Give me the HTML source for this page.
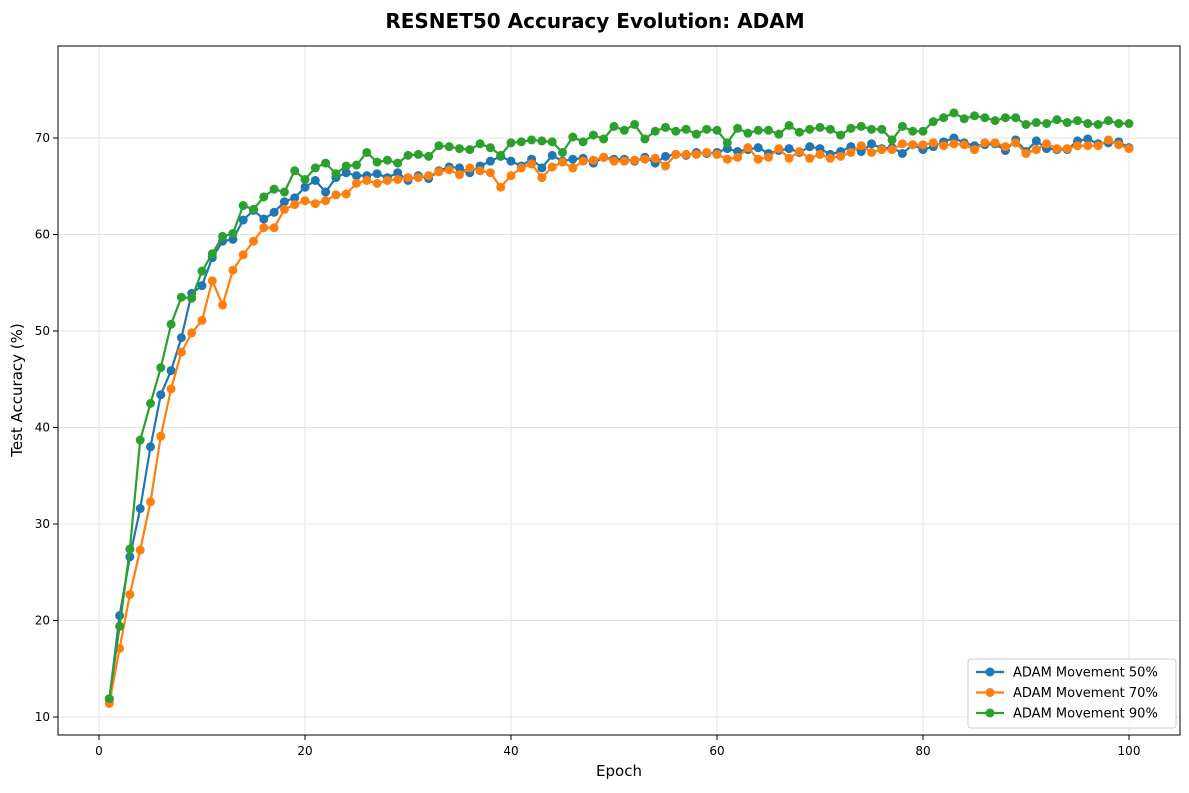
<!DOCTYPE html>
<html><head><meta charset="utf-8"><style>
body{margin:0;background:#fff;font-family:"Liberation Sans","DejaVu Sans",sans-serif}
</style></head><body>
<svg id="chart" width="1189" height="788" xmlns="http://www.w3.org/2000/svg" font-family="DejaVu Sans, Liberation Sans, sans-serif"></svg>
<script>
const epochs = Array.from({length:100},(_,i)=>i+1);
const adam50 = [11.8,20.5,26.6,31.6,38,43.4,45.9,49.3,53.9,54.7,57.6,59.3,59.5,61.5,62.5,61.6,62.3,63.4,63.8,64.9,65.6,64.4,65.9,66.4,66.1,66.1,66.3,65.9,66.4,65.6,66.1,65.8,66.6,67.0,66.9,66.4,67.1,67.6,68.1,67.6,67.1,67.8,66.9,68.2,67.6,67.8,67.9,67.4,68.0,67.8,67.8,67.6,68.0,67.4,68.1,68.3,68.2,68.5,68.4,68.5,68.9,68.6,68.8,69.0,68.4,68.7,68.9,68.5,69.1,68.9,68.3,68.6,69.1,68.6,69.4,68.9,69.0,68.4,69.3,68.8,69.1,69.6,70.0,69.5,69.2,69.3,69.4,68.7,69.8,68.6,69.7,68.9,68.8,68.8,69.7,69.9,69.4,69.5,69.6,69.0];
const adam70 = [11.4,17.1,22.7,27.3,32.3,39.1,44.0,47.8,49.8,51.1,55.2,52.7,56.3,57.9,59.3,60.7,60.7,62.6,63.1,63.5,63.2,63.5,64.1,64.2,65.3,65.6,65.3,65.6,65.7,65.9,65.9,66.1,66.5,66.7,66.2,66.9,66.6,66.4,64.9,66.1,66.9,67.3,65.9,67.0,67.5,66.9,67.6,67.7,68.0,67.6,67.6,67.7,67.8,67.9,67.1,68.3,68.3,68.3,68.5,68.3,67.8,68.0,69.0,67.8,68.0,68.9,67.9,68.6,67.9,68.3,67.9,68.1,68.5,69.2,68.5,68.8,68.8,69.4,69.3,69.3,69.5,69.2,69.4,69.3,68.8,69.5,69.5,69.1,69.5,68.4,68.8,69.4,68.9,68.9,69.2,69.2,69.2,69.8,69.3,68.9];
const adam90 = [11.9,19.4,27.4,38.7,42.5,46.2,50.7,53.5,53.4,56.2,58.0,59.8,60.1,63.0,62.6,63.9,64.7,64.4,66.6,65.7,66.9,67.4,66.3,67.1,67.2,68.5,67.5,67.7,67.4,68.2,68.3,68.1,69.2,69.1,68.9,68.8,69.4,69.0,68.2,69.5,69.6,69.8,69.7,69.6,68.5,70.1,69.6,70.3,69.9,71.2,70.8,71.4,69.9,70.7,71.1,70.7,70.9,70.4,70.9,70.8,69.5,71.0,70.5,70.8,70.8,70.4,71.3,70.6,70.9,71.1,70.9,70.3,71.0,71.2,70.9,70.9,69.8,71.2,70.7,70.7,71.7,72.1,72.6,72.0,72.3,72.1,71.8,72.1,72.1,71.4,71.6,71.5,71.9,71.6,71.8,71.5,71.4,71.8,71.5,71.5];
const xTicks = [0,20,40,60,80,100];
const yTicks = [10,20,30,40,50,60,70];
const seriesNames = ["ADAM Movement 50%","ADAM Movement 70%","ADAM Movement 90%"];
const colors = ["#1f77b4","#ff7f0e","#2ca02c"];

const L=58,R=1180,T=46,B=735;
const X=v=>99+(v)*10.3;
const Y=v=>717-(v-10)*9.65;
const svg=document.getElementById('chart');
const NS="http://www.w3.org/2000/svg";
function mk(tag,attrs,parent){const e=document.createElementNS(NS,tag);for(const k in attrs)e.setAttribute(k,attrs[k]);(parent||svg).appendChild(e);return e;}

// grid
xTicks.forEach(t=>{
  const g=mk('line',{x1:X(t),x2:X(t),y1:T,y2:B,stroke:'#e5e5e5','stroke-width':1});
  
  
  const tk=mk('line',{x1:X(t),x2:X(t),y1:B,y2:B+5,stroke:'#000'});
  
  
  const tx=mk('text',{x:X(t),y:B+20,'text-anchor':'middle','font-size':12});
  tx.textContent=t;
  
  
});
yTicks.forEach(t=>{
  const g=mk('line',{x1:L,x2:R,y1:Y(t),y2:Y(t),stroke:'#e5e5e5','stroke-width':1});
  
  
  const tk=mk('line',{x1:L-5,x2:L,y1:Y(t),y2:Y(t),stroke:'#000'});
  
  
  const tx=mk('text',{x:L-8,y:Y(t)+4,'text-anchor':'end','font-size':12});
  tx.textContent=t;
  
  
});

const data=[adam50,adam70,adam90];
data.forEach((s,i)=>{
  const g=mk('g',{});
  
  
  const pts=s.map((v,j)=>X(epochs[j])+','+Y(v)).join(' ');
  const pl=mk('polyline',{points:pts,fill:'none',stroke:colors[i],'stroke-width':2.2},g);
  
  
  s.forEach((v,j)=>{
    const c=mk('circle',{cx:X(epochs[j]),cy:Y(v),r:4.5,fill:colors[i]},g);
    
    
  });
});

const frame=mk('rect',{x:L,y:T,width:R-L,height:B-T,fill:'none',stroke:'#000','stroke-width':1});



const title=mk('text',{x:595,y:28,'text-anchor':'middle','font-size':20,'font-weight':'bold'});
title.textContent='RESNET50 Accuracy Evolution: ADAM';


const xl=mk('text',{x:619,y:776,'text-anchor':'middle','font-size':15});
xl.textContent='Epoch';


const yl=mk('text',{x:22,y:390,'text-anchor':'middle','font-size':15,transform:'rotate(-90 22 390)'});
yl.textContent='Test Accuracy (%)';



// legend
const lg=mk('g',{});


const lr=mk('rect',{x:968,y:659,width:208,height:69,rx:3,fill:'#fff','fill-opacity':0.85,stroke:'#ccc'},lg);


seriesNames.forEach((n,i)=>{
  const y=672+i*20.5;
  const e=mk('g',{},lg);
  
  
  mk('line',{x1:976,x2:1004,y1:y,y2:y,stroke:colors[i],'stroke-width':2.2},e);
  mk('circle',{cx:990,cy:y,r:4.5,fill:colors[i]},e);
  const t=mk('text',{x:1013,y:y+4.5,'font-size':13},e);
  t.textContent=n;
});
</script>
</body></html>
